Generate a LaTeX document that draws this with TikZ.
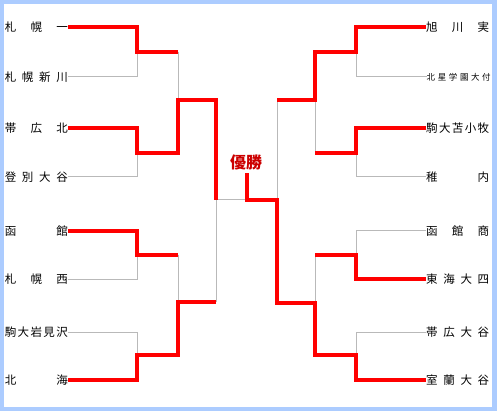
\documentclass[tikz,border=0pt]{standalone}
\usepackage{fontspec}
\newfontfamily\jp{Noto Sans CJK JP}
\definecolor{bordercol}{RGB}{172,204,255}
\definecolor{graycol}{RGB}{185,185,185}
\definecolor{wincol}{RGB}{255,0,0}
\definecolor{titlecol}{RGB}{204,0,0}
\newcommand\spreadname[2][63pt]{\makebox[#1][s]{#2}}
\tikzset{
  team/.style={inner sep=0pt, font=\jp\fontsize{11.5}{12}\selectfont, text=black},
  smallteam/.style={inner sep=0pt, font=\jp\fontsize{8.5}{9}\selectfont, text=black},
  lose/.style={draw=graycol, line width=1pt},
  win/.style={draw=wincol, line width=4pt, line join=miter},
  titletext/.style={inner sep=0pt, font=\jp\bfseries\fontsize{16}{16}\selectfont, text=titlecol}
}
\begin{document}
\begin{tikzpicture}[x=1pt,y=-1pt]
\useasboundingbox (0,0) rectangle (497,411);
\fill[bordercol] (0,0) rectangle (497,411);
\fill[white] (4,4) rectangle (492,407);

% left teams
\node[team,anchor=east] (l1) at (68,27) {\spreadname{札\hfil 幌\hfil 一}};
\node[team,anchor=east] (l2) at (68,77) {\spreadname{札\hfil 幌\hfil 新\hfil 川}};
\node[team,anchor=east] (l3) at (68,128) {\spreadname{帯\hfil 広\hfil 北}};
\node[team,anchor=east] (l4) at (68,177) {\spreadname{登\hfil 別\hfil 大\hfil 谷}};
\node[team,anchor=east] (l5) at (68,231) {\spreadname{函\hfil 館}};
\node[team,anchor=east] (l6) at (68,279) {\spreadname{札\hfil 幌\hfil 西}};
\node[team,anchor=east] (l7) at (68,332) {\spreadname{駒\hfil 大\hfil 岩\hfil 見\hfil 沢}};
\node[team,anchor=east] (l8) at (68,380) {\spreadname{北\hfil 海}};

% right teams
\node[team,anchor=west] (r1) at (426,27) {\spreadname{旭\hfil 川\hfil 実}};
\node[smallteam,anchor=west] (r2) at (426.5,77) {\spreadname[64pt]{北\hfil 星\hfil 学\hfil 園\hfil 大\hfil 付}};
\node[team,anchor=west] (r3) at (426,128) {\spreadname{駒\hfil 大\hfil 苫\hfil 小\hfil 牧}};
\node[team,anchor=west] (r4) at (426,177) {\spreadname{稚\hfil 内}};
\node[team,anchor=west] (r5) at (426,231) {\spreadname{函\hfil 館\hfil 商}};
\node[team,anchor=west] (r6) at (426,279) {\spreadname{東\hfil 海\hfil 大\hfil 四}};
\node[team,anchor=west] (r7) at (426,332) {\spreadname{帯\hfil 広\hfil 大\hfil 谷}};
\node[team,anchor=west] (r8) at (426,380) {\spreadname{室\hfil 蘭\hfil 大\hfil 谷}};

% champion label
\node[titletext] (champ) at (246,162) {優勝};
\coordinate (champfoot) at (247,173);

% junction coordinates, left
\coordinate (la1) at (137,52);
\coordinate (la2) at (137,153);
\coordinate (la3) at (137,255);
\coordinate (la4) at (137,355);
\coordinate (lb1) at (178,100);
\coordinate (lb2) at (178,302);
\coordinate (lc) at (216,200);
% junction coordinates, right
\coordinate (ra1) at (356,52);
\coordinate (ra2) at (356,153);
\coordinate (ra3) at (356,255);
\coordinate (ra4) at (356,355);
\coordinate (rb1) at (315,100);
\coordinate (rb2) at (315,303);
\coordinate (rc) at (277,200);

% losing paths (gray)
\draw[lose] (l2.east) -| (la1);
\draw[lose] (l4.east) -| (la2);
\draw[lose] (l6.east) -| (la3);
\draw[lose] (l7.east) -| (la4);
\draw[lose] (178,52) -- (lb1);
\draw[lose] (178,255) -- (lb2);
\draw[lose] (lc) -- (216,302);
\draw[lose] (lc) -- (champfoot |- lc);
\draw[lose] (r2.west) -| (ra1);
\draw[lose] (r4.west) -| (ra2);
\draw[lose] (r5.west) -| (ra3);
\draw[lose] (r7.west) -| (ra4);
\draw[lose] (rb1) -- (315,153);
\draw[lose] (rb2) -- (315,255);
\draw[lose] (277,100) -- (rc);

% winning paths (red)
\draw[win] (l1.east) -| (la1) -- (178,52);
\draw[win] (l3.east) -| (la2) -- (178,153) -- (lb1) -- (216,100) -- (lc);
\draw[win] (l5.east) -| (la3) -- (178,255);
\draw[win] (l8.east) -| (la4) -- (178,355) -- (lb2) -- (216,302);
\draw[win] (r1.west) -| (ra1) -- (315,52) -- (rb1) -- (277,100);
\draw[win] (r3.west) -| (ra2) -- (315,153);
\draw[win] (r6.west) -| (ra3) -- (315,255);
\draw[win] (r8.west) -| (ra4) -- (315,355) -- (rb2) -- (277,303) -- (rc) -- (champfoot |- rc) -- (champfoot);
\end{tikzpicture}
\end{document}
